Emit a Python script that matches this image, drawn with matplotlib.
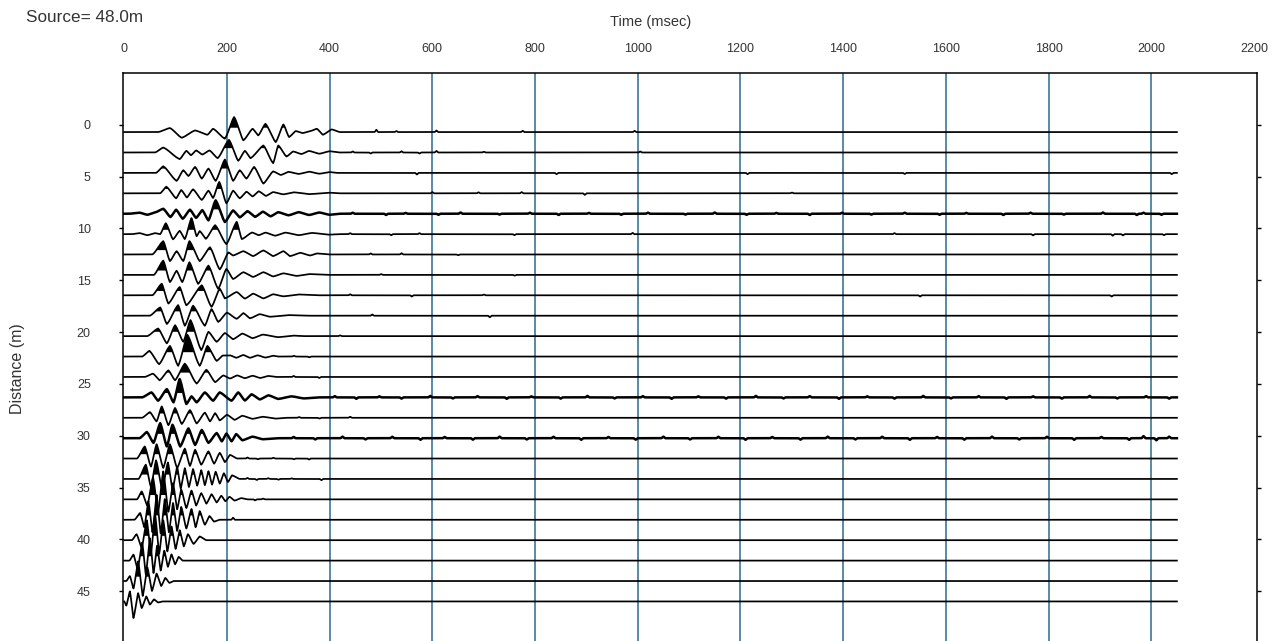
import numpy as np
import matplotlib.pyplot as plt

plt.rcParams['font.family'] = ['Liberation Sans', 'DejaVu Sans']

# Receiver offsets (m) of the 24 traces
offsets = [0.70, 2.67, 4.64, 6.61, 8.58, 10.55, 12.51, 14.48, 16.45, 18.42, 20.39, 22.36,
           24.33, 26.30, 28.27, 30.24, 32.20, 34.17, 36.14, 38.11, 40.08, 42.05, 44.02, 45.99]

record_end = 2050  # msec

# Wavelet extrema per trace: (time msec, amplitude in m of plot offset, + is up)
extrema = [
    [(66, 0), (89, .39), (112, -.55), (138, .16), (162, -.26), (173, .32), (196, -.64), (214, 1.45),
     (232, -.8), (250, .32), (261, -.32), (275, .8), (295, -.97), (310, .74), (321, -.48), (334, .1),
     (347, -.1), (360, .05), (375, .32), (387, -.26), (404, .26), (420, 0)],
    [(60, 0), (76, .48), (108, -.64), (121, .16), (130, -.26), (140, .2), (152, -.2), (166, .2),
     (182, -.55), (204, 1.22), (222, -.8), (235, .16), (246, -.55), (271, .68), (290, -1.03), (300, .68),
     (316, -.39), (329, .1), (345, -.15), (360, .15), (380, -.12), (400, .12), (420, 0)],
    [(62, 0), (76, .64), (102, -.77), (115, .26), (125, -.3), (138, .58), (151, -.55), (164, .42),
     (178, -.77), (196, 1.29), (212, -.77), (225, .26), (238, -.55), (253, .58), (271, -1.03), (290, .15),
     (305, -.2), (320, .1), (340, -.1), (360, .12), (380, -.08), (400, .08), (415, 0)],
    [(70, 0), (82, .64), (101, -.48), (111, .32), (122, -.4), (134, .39), (151, -.64), (164, .26),
     (173, -.45), (185, 1.1), (199, -.97), (212, .26), (225, -.48), (238, .16), (250, -.3), (262, .2),
     (276, -.25), (290, .12), (310, -.1), (330, .1), (360, -.08), (400, .06), (420, 0)],
    [(10, 0), (30, .1), (45, -.1), (60, .12), (76, .48), (90, -.32), (101, .39), (114, -.48), (128, .39),
     (140, -.4), (152, .35), (164, -.64), (178, 1.29), (196, -.8), (212, .32), (225, -.35), (240, .25),
     (255, -.3), (270, .2), (285, -.25), (300, .15), (320, -.15), (340, .15), (360, -.12), (380, .12),
     (400, -.1), (420, 0)],
    [(15, 0), (30, .1), (45, -.1), (60, .1), (70, 0), (81, 1.06), (95, -.5), (108, .32), (118, -.48),
     (131, 1.55), (141, -.2), (147, .3), (159, -.45), (177, .87), (199, -.97), (219, 1.19), (229, -.48),
     (249, .16), (262, -.1), (275, .15), (294, -.15), (314, .15), (340, -.1), (366, .12), (398, -.05),
     (420, 0)],
    [(55, 0), (76, 1.29), (89, -.64), (102, .32), (115, -.64), (127, 1.29), (147, -.64), (167, .7),
     (186, -1.45), (203, .2), (212, -.1), (232, .32), (251, -.16), (271, .39), (290, -.16), (310, .32),
     (323, -.16), (343, .16), (362, -.1), (375, .1), (400, 0)],
    [(58, 0), (76, 1.38), (89, -.7), (102, .4), (113, -.7), (127, 1.22), (144, -.87), (164, .9),
     (183, -1.35), (199, .58), (212, -.4), (232, .26), (251, -.2), (271, .26), (290, -.15), (310, .15),
     (336, -.1), (360, .08), (400, 0)],
    [(55, 0), (73, 1.12), (86, -.8), (108, .8), (121, -.97), (151, .97), (170, -1.12), (186, .64),
     (196, -.3), (219, .32), (235, -.32), (251, .16), (271, -.3), (290, .1), (310, -.1), (340, .08),
     (380, 0)],
    [(50, 0), (70, .8), (83, -.8), (105, 1.03), (118, -.97), (134, .97), (157, -.97), (170, .64),
     (183, -.6), (200, .3), (219, -.3), (232, .25), (245, -.25), (264, .15), (284, -.1), (320, .06),
     (360, 0)],
    [(45, 0), (66, .74), (83, -.7), (99, 1.06), (115, -.55), (129, 1.55), (150, -1.35), (164, .42),
     (180, -.55), (196, .3), (212, -.3), (230, .25), (250, -.2), (270, .15), (300, -.1), (330, .05),
     (350, 0)],
    [(35, 0), (49, .55), (68, -.74), (89, 1.03), (105, -.9), (123, 2.1), (147, -.9), (162, 1.03),
     (180, -.42), (192, .1), (206, .12), (218, -.12), (232, .15), (245, -.12), (260, .12), (275, -.1),
     (290, .08), (300, 0)],
    [(40, 0), (56, .32), (69, -.32), (86, .64), (99, -.32), (118, 1.29), (141, -.64), (160, .7),
     (177, -.5), (193, .15), (206, -.15), (220, .15), (235, -.12), (250, .12), (265, -.1), (280, .1),
     (297, 0)],
    [(35, 0), (53, .48), (66, -.32), (83, .8), (96, -.48), (108, 1.77), (121, -.64), (131, .1),
     (141, -.48), (157, .48), (173, -.32), (186, .48), (209, -.32), (222, .48), (235, -.3), (248, .3),
     (264, -.2), (281, .2), (300, -.15), (326, .1), (350, -.1), (380, 0)],
    [(35, 0), (50, .55), (63, -.35), (73, 1.1), (86, -.72), (99, .95), (112, -.6), (128, .75), (141, -.55),
     (157, .5), (167, -.35), (177, .45), (186, -.25), (200, .3), (215, -.2), (230, .2), (250, -.1),
     (270, .1), (295, -.08), (316, 0)],
    [(30, 0), (44, .6), (57, -.45), (70, 1.45), (83, -.8), (94, 1.3), (109, -.8), (125, .95),
     (138, -.65), (151, .8), (164, -.45), (180, .5), (190, -.3), (199, .45), (209, -.3), (218, .4),
     (230, -.2), (250, .15), (270, -.1), (300, 0)],
    [(25, 0), (40, 1.17), (52, -.78), (63, 1.38), (76, -.91), (89, 1.38), (103, -.91), (118, .96),
     (128, -.72), (138, .85), (150, -.6), (164, .7), (175, -.5), (186, .55), (196, -.35), (206, .35),
     (220, 0)],
    [(28, 0), (42, 1.38), (52, -.78), (62, 1.8), (74, -1.04), (85, 1.59), (94, -1.04), (103, 1.17),
     (110, -.91), (118, 1.04), (126, -.78), (134, .96), (142, -.65), (150, .85), (157, -.6), (164, .75),
     (171, -.55), (178, .7), (186, -.45), (194, .55), (202, -.3), (210, .35), (225, 0)],
    [(25, 0), (34, .77), (45, -.6), (56, 2.12), (66, -1.2), (76, 2.7), (86, -1.2), (95, 1.56), (103, -.96),
     (111, .96), (121, -.84), (131, .85), (140, -.6), (150, .6), (160, -.42), (170, .5), (180, -.3),
     (189, .35), (197, -.18), (205, .25), (215, -.12), (228, .12), (240, 0)],
    [(20, 0), (31, .66), (39, -.72), (47, 1.8), (55, -1.2), (63, 2.4), (71, -1.32), (79, 2.0), (87, -1.2),
     (95, 1.62), (103, -1.08), (111, 1.24), (121, -.84), (131, 1.04), (139, -.72), (147, .84), (157, -.48),
     (166, .36), (175, -.18), (185, 0)],
    [(15, 0), (24, .58), (34, -.72), (44, 1.92), (52, -1.32), (60, 2.52), (68, -1.32), (76, 1.92),
     (84, -1.08), (92, 1.32), (100, -.84), (108, .96), (116, -.6), (124, .58), (135, -.36), (147, .36),
     (160, 0)],
    [(10, 0), (18, .58), (26, -.84), (35, 1.74), (42, -1.32), (50, 2.16), (57, -1.2), (64, 1.44),
     (71, -.96), (78, .96), (85, -.6), (92, .6), (99, -.36), (106, .36), (114, 0)],
    [(4, 0), (11, .48), (18, -.72), (27, 1.9), (36, -1.44), (45, 1.32), (54, -.96), (63, .72), (72, -.48),
     (80, .3), (88, -.18), (96, 0)],
    [(0, 0), (4, -.4), (11, .97), (18, -1.6), (27, .8), (34, -.64), (43, .48), (50, -.3), (58, .2),
     (66, -.1), (75, 0)],
]

# Short glitches later in the record: (time msec, amplitude m)
glitches = {
    0: [(491, .22), (530, .1), (608, .15), (776, .12), (994, .12)],
    1: [(445, .1), (480, -.1), (540, .12), (575, -.1), (608, .15), (700, .08), (1005, .1)],
    2: [(570, -.15), (842, -.12), (1214, -.12), (1520, -.1), (2040, -.12)],
    3: [(600, .12), (690, .1), (774, .12), (897, -.15), (1300, .08)],
    4: [(445, .1), (510, -.12), (548, .08), (612, -.1), (655, .12), (731, -.08), (790, .1), (846, -.12),
        (905, .08), (968, -.1), (1020, .1), (1093, -.08), (1150, .12), (1212, -.1), (1270, .08),
        (1335, -.12), (1398, .1), (1455, -.08), (1520, .1), (1588, -.1), (1640, .08), (1712, -.12),
        (1765, .1), (1830, -.08), (1906, .12), (1972, -.12), (1985, .1), (2020, -.1)],
    5: [(440, .1), (520, -.1), (575, .1), (760, -.1), (990, .12), (1500, .1), (1770, -.12),
        (1925, -.15), (1945, -.12), (2025, -.1)],
    6: [(480, .1), (540, .12), (650, -.08)],
    7: [(500, .08), (760, -.08)],
    8: [(440, .1), (560, -.12), (700, .08), (1550, -.12), (1923, -.12)],
    9: [(483, .12), (712, -.15)],
    10: [(420, .08)],
    11: [(330, .08), (360, -.08)],
    12: [(330, .1), (380, -.1)],
    13: [(410, .12), (452, -.14), (497, .1), (540, -.12), (596, .14), (640, -.1), (688, .12),
         (745, -.14), (793, .1), (850, -.12), (902, .14), (955, -.1), (1010, .12), (1066, -.14),
         (1118, .1), (1172, -.12), (1230, .14), (1284, -.1), (1335, .12), (1392, -.14), (1447, .1),
         (1500, -.12), (1556, .14), (1610, -.1), (1664, .12), (1718, -.14), (1770, .1), (1826, -.12),
         (1880, .14), (1934, -.1), (1990, .12), (2035, -.12)],
    14: [(340, .08), (380, -.08), (440, .1)],
    15: [(330, .12), (372, -.12), (425, .15), (470, -.12), (522, .14), (577, -.15), (624, .12), (679, -.14),
         (731, .15), (784, -.12), (836, .14), (890, -.15), (943, .12), (996, -.14), (1050, .15),
         (1102, -.12), (1157, .14), (1210, -.15), (1262, .12), (1317, -.14), (1370, .15), (1424, -.12),
         (1476, .14), (1530, -.15), (1583, .12), (1636, -.14), (1690, .15), (1743, -.12), (1797, .14),
         (1850, -.15), (1903, .12), (1957, -.15), (1985, .2), (2010, -.2), (2035, .15)],
    16: [(240, .1), (260, -.08), (290, .08), (330, -.08), (360, -.1)],
    17: [(240, .1), (258, -.1), (280, .08), (300, -.08), (326, .06), (384, -.12)],
    18: [(255, -.1), (270, .08)],
    19: [(212, .2)],
}
noisy_traces = [4, 13, 15]

x_ticks = list(range(0, 2201, 200))
grid_times = list(range(200, 2001, 200))
y_ticks = list(range(0, 46, 5))

clip = 0.42  # variable-area shading starts above this level
t = np.arange(0, record_end + 0.25, 0.25)


def trace_curve(knots):
    knots = sorted(knots)
    kt = np.array([k[0] for k in knots], dtype=float)
    ka = np.array([k[1] for k in knots], dtype=float)
    idx = np.clip(np.searchsorted(kt, t, side='right') - 1, 0, len(kt) - 2)
    s = np.clip((t - kt[idx]) / (kt[idx + 1] - kt[idx]), 0, 1)
    # mostly straight segments with softened turns, like a sampled wiggle
    w = 0.6 * s + 0.4 * (1 - np.cos(np.pi * s)) / 2
    return ka[idx] + (ka[idx + 1] - ka[idx]) * w


fig = plt.figure(figsize=(12.76, 6.41), dpi=100)
ax = fig.add_axes([122.7 / 1276, -2 / 641, (1257 - 122.7) / 1276, 570 / 641])

for gx in grid_times:
    ax.axvline(gx, color='#2a6a8e', lw=1.1, zorder=1)

for i, off in enumerate(offsets):
    knots = [(0, 0), (record_end, 0)] + list(extrema[i])
    half = 4 if i in noisy_traces else 3.5
    for gt, ga in glitches.get(i, []):
        knots += [(gt - half, 0), (gt, ga), (gt + half, 0)]
    sig = trace_curve(knots)
    y = off - sig
    ax.plot(t, y, color='black', lw=1.8 if i in noisy_traces else 1.25, zorder=3,
            solid_joinstyle='round')
    ax.fill_between(t, off - clip, y, where=sig > clip, interpolate=True,
                    color='black', lw=0, zorder=3)

ax.set_xlim(-3, 2206)
ax.set_ylim(50, -5)
ax.xaxis.tick_top()
ax.set_xticks(x_ticks)
ax.set_yticks(y_ticks)
ax.tick_params(axis='x', length=0, pad=13, labelsize=9, colors='#333333')
ax.tick_params(axis='y', length=3, width=1, direction='out', pad=20, labelsize=9,
               labelcolor='#333333', right=True, labelright=False)
for lbl in ax.get_yticklabels():
    lbl.set_horizontalalignment('right')

for sp in ax.spines.values():
    sp.set_color('black')
    sp.set_linewidth(1.1)

fig.text(26 / 1276, 1 - 18 / 641, 'Source= 48.0m', fontsize=12.3, color='#333333',
         ha='left', va='center')
fig.text(651 / 1276, 1 - 22 / 641, 'Time (msec)', fontsize=10.5, color='#333333',
         ha='center', va='center')
fig.text(18 / 1276, 1 - 369 / 641, 'Distance (m)', fontsize=11.5, color='#333333',
         ha='center', va='center', rotation=90)

fig.savefig('out.png', dpi=100)
